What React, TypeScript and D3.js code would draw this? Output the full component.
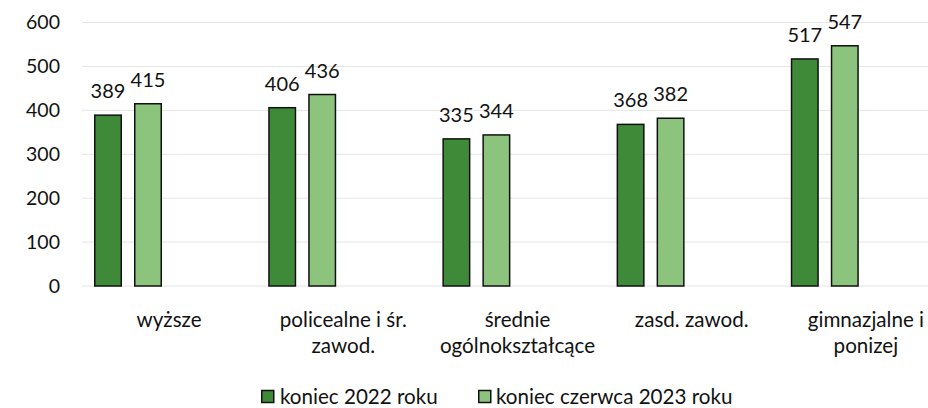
import React from "react";
import * as d3 from "d3";

const categories: string[][] = [
  ["wyższe"],
  ["policealne i śr.", "zawod."],
  ["średnie", "ogólnokształcące"],
  ["zasd. zawod."],
  ["gimnazjalne i", "ponizej"],
];
const seriesNames = ["koniec 2022 roku", "koniec czerwca 2023 roku"];
const values2022 = [389, 406, 335, 368, 517];
const values2023 = [415, 436, 344, 382, 547];
const yTicks = [0, 100, 200, 300, 400, 500, 600];

const colors = ["#3f8a38", "#8cc47e"];
const FONT = "Lato, 'Open Sans', sans-serif";

export default function App() {
  const W = 928, H = 408;
  const keys = categories.map((c) => c.join(" "));
  const step = 174.2;
  const x0 = d3.scaleBand<string>().domain(keys).range([82, 82 + step * keys.length]).padding(0);
  const x1 = d3.scaleBand<string>().domain(seriesNames).range([12, 80]).paddingInner(0.3).paddingOuter(0);
  const y = d3.scaleLinear().domain([0, 600]).range([286, 22.5]);
  const series = [values2022, values2023];
  const legendX = [[261, 280], [478, 496]];

  return (
    <svg width={W} height={H} style={{ position: "absolute", left: 0, top: 0, background: "#fff" }} fontFamily={FONT}>
      {yTicks.map((t) => (
        <g key={t}>
          <line x1={82} x2={W} y1={y(t)} y2={y(t)} stroke="#e4e4e4" strokeWidth={1} />
          <text x={60} y={y(t)} dy="0.35em" textAnchor="end" fontSize={19.5} fill="#111">
            {t}
          </text>
        </g>
      ))}
      {keys.map((k, i) => (
        <g key={k} transform={`translate(${x0(k)},0)`}>
          {series.map((vals, s) => {
            const bx = x1(seriesNames[s])!;
            const bw = x1.bandwidth();
            return (
              <g key={s}>
                <rect
                  x={bx + 0.75}
                  y={y(vals[i])}
                  width={bw - 1.5}
                  height={y(0) - y(vals[i])}
                  fill={colors[s]}
                  stroke="#111"
                  strokeWidth={1.5}
                />
                <text x={bx + bw / 2} y={y(vals[i]) - 17} textAnchor="middle" fontSize={20} fill="#111">
                  {vals[i]}
                </text>
              </g>
            );
          })}
          {categories[i].map((line, li) => (
            <text
              key={li}
              x={x0.bandwidth() / 2}
              y={320 + li * 25.5}
              dy="0.35em"
              textAnchor="middle"
              fontSize={20.6}
              fill="#111"
            >
              {line}
            </text>
          ))}
        </g>
      ))}
      {seriesNames.map((n, s) => {
        const [sx, tx] = legendX[s];
        return (
          <g key={n}>
            <rect x={sx + 0.75} y={390.5} width={12} height={12} fill={colors[s]} stroke="#111" strokeWidth={1.5} />
            <text x={tx} y={397} dy="0.35em" fontSize={20.6} fill="#111">
              {n}
            </text>
          </g>
        );
      })}
    </svg>
  );
}
